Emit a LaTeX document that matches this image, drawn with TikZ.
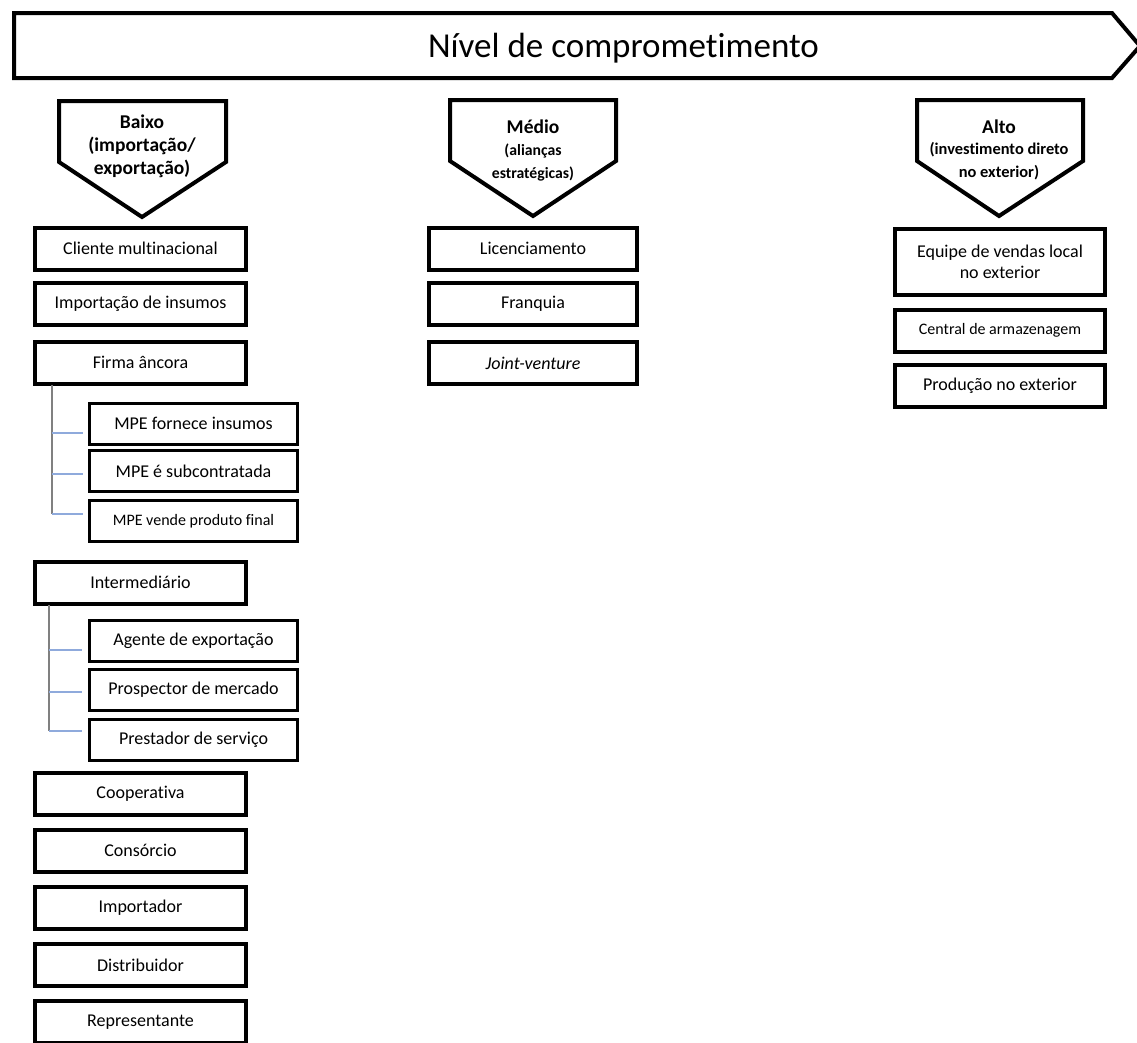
\documentclass[tikz,border=0pt]{standalone}
\usepackage{fontspec}
\setmainfont[Ligatures=NoCommon]{Carlito}
\definecolor{branchblue}{HTML}{8FAADC}
\definecolor{trunkgray}{HTML}{808080}
\newcommand{\subfa}{\fontsize{15.7}{19.5}\selectfont}
\newcommand{\subfb}{\fontsize{16.4}{20}\selectfont}
\tikzset{
  mainbox/.style={draw, line width=4pt, minimum width=211pt, minimum height=42pt, inner sep=0pt, align=center, font=\fontsize{18}{21}\selectfont},
  subbox/.style={draw, line width=3pt, minimum width=208pt, minimum height=41pt, inner sep=0pt, align=center, font=\fontsize{18}{21}\selectfont},
  shapeline/.style={draw, line width=4pt, line join=miter},
  trunk/.style={draw=trunkgray, line width=1.6pt},
  branch/.style={draw=branchblue, line width=1.6pt},
  headtxt/.style={align=center, inner sep=0pt, font=\bfseries\fontsize{19.5}{23}\selectfont},
}
\begin{document}
\begin{tikzpicture}[x=1pt,y=-1pt]
\useasboundingbox (0,0) rectangle (1137,1042);
\clip (0,0) rectangle (1137,1042);
% banner
\draw[shapeline] (14,13) -- (1112,13) -- (1140,46) -- (1112,78) -- (14,78) -- cycle;
\node[inner sep=0pt, anchor=base, font=\fontsize{35}{40}\selectfont] (banner) at (623.5,57) {Nível de comprometimento};

% pentagons
\draw[shapeline] (59,101) -- (226,101) -- (226,162) -- (142,217) -- (59,162) -- cycle;
\node[headtxt] (baixo) at (142,146) {Baixo\\(importação/\\exportação)};

\draw[shapeline] (450,100) -- (616,100) -- (616,161) -- (533,216) -- (450,161) -- cycle;
\node[headtxt] (medio) at (533,150) {Médio\\[-1pt]\subfa (alianças\\\subfa estratégicas)};

\draw[shapeline] (917,100) -- (1083,100) -- (1083,161) -- (999,216) -- (917,161) -- cycle;
\node[headtxt] (alto) at (999,150) {Alto\\[-2pt]\subfb (investimento direto\\\subfb no exterior)};

% left column
\node[mainbox] (cliente) at (140.5,248.5) {Cliente multinacional};
\node[mainbox] (importacao) at (140.5,303.5) {Importação de insumos};
\node[mainbox] (firma) at (140.5,362.5) {Firma âncora};
\node[subbox] (mpe1) at (193.5,423.5) {MPE fornece insumos};
\node[subbox] (mpe2) at (193.5,471) {MPE é subcontratada};
\node[subbox, font=\fontsize{16}{19}\selectfont] (mpe3) at (193.5,521) {MPE vende produto final};
\node[mainbox] (interm) at (140.5,582.5) {Intermediário};
\node[subbox] (agente) at (193.5,640.5) {Agente de exportação};
\node[subbox] (prospector) at (193.5,690) {Prospector de mercado};
\node[subbox] (prestador) at (193.5,739.5) {Prestador de serviço};
\node[mainbox] (cooperativa) at (140.5,794) {Cooperativa};
\node[mainbox] (consorcio) at (140.5,850.5) {Consórcio};
\node[mainbox] (importador) at (140.5,908) {Importador};
\node[mainbox] (distribuidor) at (140.5,965) {Distribuidor};
\node[mainbox] (representante) at (140.5,1022) {Representante};

% middle column
\node[mainbox, minimum width=208pt] (licenc) at (533,248.5) {Licenciamento};
\node[mainbox, minimum width=208pt] (franquia) at (533,304) {Franquia};
\node[mainbox, minimum width=208pt] (joint) at (533,363) {\itshape Joint-venture};

% right column
\node[mainbox, minimum width=210pt, minimum height=66pt] (equipe) at (1000,262) {Equipe de vendas local\\no exterior};
\node[mainbox, minimum width=210pt, font=\fontsize{16}{19}\selectfont] (central) at (1000,330.5) {Central de armazenagem};
\node[mainbox, minimum width=210pt] (producao) at (1000,386) {Produção no exterior};

% connectors: Firma ancora
\coordinate (ft) at (52,385);
\coordinate (f1) at (52,433);
\coordinate (f2) at (52,474);
\coordinate (f3) at (52,514);
\coordinate (f1e) at (83,433);
\coordinate (f2e) at (83,474);
\coordinate (f3e) at (83,514);
\draw[trunk] (ft) -- (f3);
\draw[branch] (f1) -- (f1e);
\draw[branch] (f2) -- (f2e);
\draw[branch] (f3) -- (f3e);

% connectors: Intermediario
\coordinate (it) at (49,605);
\coordinate (i1) at (49,650);
\coordinate (i2) at (49,692);
\coordinate (i3) at (49,731);
\coordinate (i1e) at (82,650);
\coordinate (i2e) at (82,692);
\coordinate (i3e) at (82,731);
\draw[trunk] (it) -- (i3);
\draw[branch] (i1) -- (i1e);
\draw[branch] (i2) -- (i2e);
\draw[branch] (i3) -- (i3e);
\end{tikzpicture}
\end{document}
